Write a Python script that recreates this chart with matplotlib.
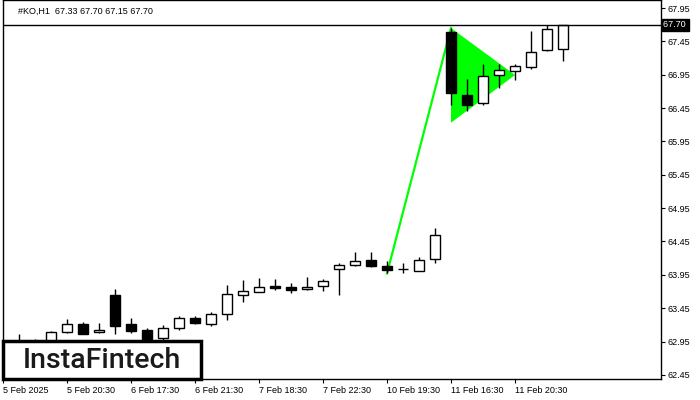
import numpy as np
import matplotlib.pyplot as plt
from matplotlib.patches import Rectangle

# hourly KO candles, one per bar index
opens = [62.88, 62.90, 62.92, 62.93, 63.09, 63.22, 63.09, 63.65, 63.21, 63.12,
         63.00, 63.15, 63.30, 63.22, 63.36, 63.64, 63.69, 63.78, 63.76, 63.73,
         63.78, 64.03, 64.10, 64.17, 64.08, 64.04, 64.01, 64.18, 67.59, 66.65,
         66.52, 66.94, 67.00, 67.07, 67.32, 67.33]
highs = [62.93, 63.06, 62.99, 63.11, 63.29, 63.24, 63.23, 63.74, 63.30, 63.15,
         63.20, 63.33, 63.33, 63.39, 63.80, 63.87, 63.90, 63.89, 63.83, 63.92,
         63.88, 64.12, 64.29, 64.29, 64.16, 64.13, 64.22, 64.65, 67.65, 66.89,
         67.11, 67.11, 67.11, 67.61, 67.69, 67.70]
lows = [62.80, 62.85, 62.88, 62.90, 63.08, 63.06, 63.08, 63.06, 63.08, 62.98,
        62.98, 63.13, 63.21, 63.19, 63.27, 63.54, 63.69, 63.72, 63.67, 63.72,
        63.71, 63.64, 64.08, 64.07, 63.97, 63.97, 64.01, 64.13, 66.50, 66.41,
        66.50, 66.75, 66.87, 67.04, 67.31, 67.15]
closes = [62.90, 62.93, 62.94, 63.09, 63.22, 63.07, 63.12, 63.19, 63.11, 62.99,
          63.16, 63.30, 63.23, 63.36, 63.66, 63.70, 63.77, 63.75, 63.72, 63.76,
          63.86, 64.10, 64.16, 64.08, 64.02, 64.04, 64.17, 64.54, 66.68, 66.50,
          66.93, 67.02, 67.08, 67.29, 67.63, 67.70]

time_ticks = [0, 4, 8, 12, 16, 20, 24, 28, 32]
time_labels = ["5 Feb 2025", "5 Feb 20:30", "6 Feb 17:30", "6 Feb 21:30",
               "7 Feb 18:30", "7 Feb 22:30", "10 Feb 19:30", "11 Feb 16:30",
               "11 Feb 20:30"]
price_ticks = [62.45, 62.95, 63.45, 63.95, 64.45, 64.95, 65.45, 65.95,
               66.45, 66.95, 67.45, 67.95]

# bullish pennant: pole and triangle
pole_x = [24, 28]
pole_y = [63.97, 67.65]
pennant_x = [28, 28, 32]
pennant_y = [67.65, 66.23, 66.945]

bid = 67.70
header = "#KO,H1  67.33 67.70 67.15 67.70"

plt.rcParams['font.family'] = ['Liberation Sans', 'DejaVu Sans']

fig = plt.figure(figsize=(7, 4), dpi=100)
ax = fig.add_axes([3 / 700, 1 - 379 / 400, 658 / 700, 379 / 400])
ax.set_xlim(0, 658 / 16)
ax.set_ylim(62.388, 68.07)

green = '#00ff00'
ax.fill(pennant_x, pennant_y, color=green, lw=0, zorder=1)
ax.plot(pole_x, pole_y, color=green, lw=1.6, zorder=1)

o = np.array(opens)
c = np.array(closes)
x = np.arange(len(o))
ax.vlines(x, lows, highs, color='black', lw=1, zorder=2)
w = 0.66
for i in range(len(o)):
    lo, hi = min(o[i], c[i]), max(o[i], c[i])
    if hi - lo < 0.005:
        ax.hlines(lo, i - w / 2, i + w / 2, color='black', lw=1, zorder=3)
        continue
    face = 'white' if c[i] > o[i] else 'black'
    ax.add_patch(Rectangle((i - w / 2, lo), w, hi - lo, facecolor=face,
                           edgecolor='black', lw=1, zorder=3))

ax.axhline(bid, color='black', lw=1, zorder=4)

ax.yaxis.tick_right()
ax.set_yticks(price_ticks)
ax.set_yticklabels([f"{p:.2f}" for p in price_ticks])
ax.tick_params(axis='y', length=3, pad=2, labelsize=6.5)
ax.set_xticks(time_ticks)
ax.set_xticklabels(time_labels, ha='left')
ax.tick_params(axis='x', length=3, pad=2, labelsize=6.5)
for s in ax.spines.values():
    s.set_linewidth(1)

ax.text(1.003, bid, f"{bid:.2f} ", transform=ax.get_yaxis_transform(),
        color='white', fontsize=6.5, va='center', ha='left',
        bbox=dict(facecolor='black', edgecolor='black', pad=1))

fig.text(18 / 700, 1 - 11 / 400, header, fontsize=6.5, va='center', ha='left')

# logo box bottom-left
logo = Rectangle((3 / 700, 1 - 379 / 400), 198 / 700, 38 / 400,
                 transform=fig.transFigure, facecolor='white',
                 edgecolor='black', lw=2.5, zorder=10)
fig.add_artist(logo)
fig.text(102 / 700, 1 - 360 / 400, "InstaFintech", fontsize=20.5,
         family=['Roboto', 'DejaVu Sans'], weight='medium', color='#1a1a1a',
         ha='center', va='center', zorder=11)

fig.savefig("out.png", dpi=100)
